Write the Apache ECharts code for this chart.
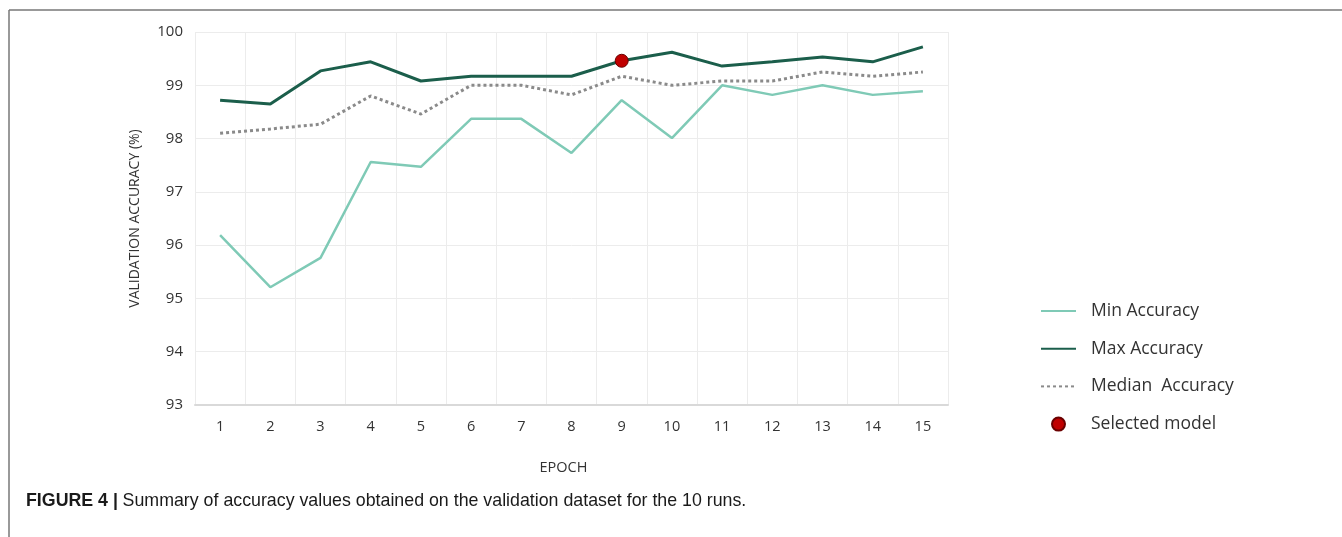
<!DOCTYPE html>
<html>
<head>
<meta charset="utf-8">
<script src="https://cdn.jsdelivr.net/npm/echarts@6/dist/echarts.min.js"></script>
<style>
  html, body { margin: 0; padding: 0; background: #fff; }
  #chart { width: 1342px; height: 537px; }
</style>
</head>
<body>
<div id="chart"></div>
<script>
var epochs = ['1', '2', '3', '4', '5', '6', '7', '8', '9', '10', '11', '12', '13', '14', '15'];
var minAcc = [96.19, 95.21, 95.76, 97.56, 97.47, 98.37, 98.37, 97.73, 98.72, 98.01, 99.0, 98.82, 99.0, 98.82, 98.89];
var maxAcc = [98.72, 98.65, 99.27, 99.44, 99.08, 99.17, 99.17, 99.17, 99.46, 99.62, 99.36, 99.44, 99.53, 99.44, 99.72];
var medianAcc = [98.1, 98.18, 98.27, 98.8, 98.46, 99.0, 99.0, 98.82, 99.17, 99.0, 99.08, 99.08, 99.25, 99.17, 99.25];
var selected = [['9', 99.46]];

var myChart = echarts.init(document.getElementById('chart'));
var option = {
    backgroundColor: '#fff',
    animation: false,
    textStyle: { fontFamily: 'Open Sans' },
    title: {
        left: 21,
        top: 487,
        text: '{b|FIGURE 4 |} {r|Summary of accuracy values obtained on the validation dataset for the 10 runs.}',
        textStyle: {
            rich: {
                b: { fontFamily: 'Liberation Sans', fontWeight: 'bold', fontSize: 17.8, color: '#1a1a1a' },
                r: { fontFamily: 'Liberation Sans', fontWeight: 'normal', fontSize: 17.8, color: '#1a1a1a' }
            }
        }
    },
    // figure frame (top and left rules)
    graphic: [
        { type: 'line', shape: { x1: 9, y1: 10, x2: 1342, y2: 10 }, style: { stroke: '#777', lineWidth: 1.5 } },
        { type: 'line', shape: { x1: 9, y1: 10, x2: 9, y2: 537 }, style: { stroke: '#777', lineWidth: 1.5 } }
    ],
    legend: {
        orient: 'vertical',
        left: 1035,
        top: 296,
        itemWidth: 35,
        itemHeight: 13,
        itemGap: 17.7,
        textStyle: { fontFamily: 'Open Sans', fontSize: 17.5, color: '#333', lineHeight: 20, padding: [0, 0, 0, 10] },
        data: [
            { name: 'Min Accuracy', itemStyle: { opacity: 0 } },
            { name: 'Max Accuracy', itemStyle: { opacity: 0 } },
            { name: 'Median  Accuracy', itemStyle: { opacity: 0 } },
            { name: 'Selected model' }
        ]
    },
    grid: {
        left: 195,
        right: 394,
        top: 32,
        bottom: 132
    },
    xAxis: {
        type: 'category',
        data: epochs,
        boundaryGap: true,
        name: 'EPOCH',
        nameLocation: 'middle',
        nameGap: 55,
        nameTextStyle: { fontSize: 14.5, color: '#333', padding: [0, 16, 0, 0] },
        axisLine: { lineStyle: { color: '#d9d9d9', width: 2 } },
        axisTick: { show: false },
        axisLabel: { margin: 14, fontSize: 14.5, color: '#333' },
        splitLine: { show: true, lineStyle: { color: '#ececec', width: 1 } }
    },
    yAxis: {
        type: 'value',
        min: 93,
        max: 100,
        interval: 1,
        name: 'VALIDATION ACCURACY (%)',
        nameLocation: 'middle',
        nameGap: 53,
        nameTextStyle: { fontSize: 14, color: '#333' },
        axisLine: { show: false },
        axisTick: { show: false },
        axisLabel: { margin: 12, fontSize: 15, color: '#333' },
        splitLine: { lineStyle: { color: '#ececec', width: 1 } }
    },
    series: [
        {
            name: 'Min Accuracy',
            type: 'line',
            symbol: 'none',
            data: minAcc,
            color: '#7fcab6',
            lineStyle: { color: '#7fcab6', width: 2.5 },
            z: 2
        },
        {
            name: 'Max Accuracy',
            type: 'line',
            symbol: 'none',
            data: maxAcc,
            color: '#1b5e4b',
            lineStyle: { color: '#1b5e4b', width: 3 },
            z: 3
        },
        {
            name: 'Median  Accuracy',
            type: 'line',
            symbol: 'none',
            data: medianAcc,
            color: '#8a8a8a',
            lineStyle: { color: '#8a8a8a', width: 3, type: [3, 3] },
            z: 2
        },
        {
            name: 'Selected model',
            type: 'scatter',
            symbol: 'circle',
            symbolSize: 13,
            data: selected,
            itemStyle: { color: '#c00000', borderColor: '#6b0000', borderWidth: 1, opacity: 1 },
            z: 5
        }
    ]
};
myChart.setOption(option);
</script>
</body>
</html>
